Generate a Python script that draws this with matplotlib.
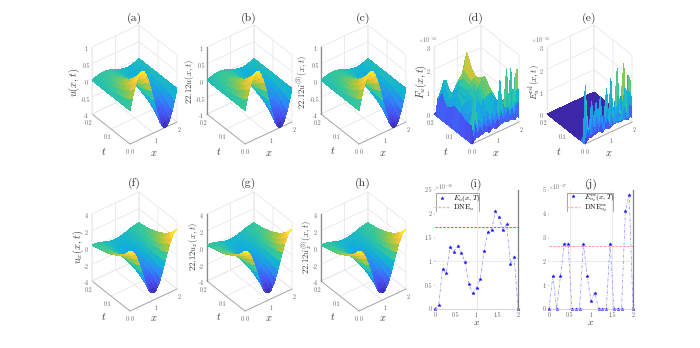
import numpy as np
import matplotlib
matplotlib.use("Agg")
import matplotlib.pyplot as plt
from matplotlib.colors import LinearSegmentedColormap
from matplotlib.text import Text
from mpl_toolkits.mplot3d import proj3d

plt.rcParams['mathtext.fontset'] = 'cm'
plt.rcParams['font.family'] = ['cmr10', 'DejaVu Serif']
plt.rcParams['axes.formatter.use_mathtext'] = True
plt.rcParams['axes.unicode_minus'] = False

x_surf = [0, .1, .2, .3, .4, .5, .6, .7, .8, .9, 1, 1.1, 1.2, 1.3, 1.4, 1.5, 1.6, 1.7, 1.8, 1.9, 2]
t_surf = [0, .01, .02, .03, .04, .05, .06, .08, .1, .12, .14, .17, .2]
u_vals = [
 [0, .31, .59, .81, .95, 1.0, .95, .81, .59, .31, 0, -.31, -.59, -.81, -.95, -1.0, -.95, -.81, -.59, -.31, 0],
 [0, .28, .53, .72, .85, .89, .85, .72, .53, .28, 0, -.28, -.53, -.72, -.85, -.89, -.85, -.72, -.53, -.28, 0],
 [0, .24, .47, .64, .75, .79, .75, .64, .47, .24, 0, -.24, -.47, -.64, -.75, -.79, -.75, -.64, -.47, -.24, 0],
 [0, .22, .42, .57, .67, .71, .67, .57, .42, .22, 0, -.22, -.42, -.57, -.67, -.71, -.67, -.57, -.42, -.22, 0],
 [0, .20, .37, .51, .60, .63, .60, .51, .37, .20, 0, -.20, -.37, -.51, -.60, -.63, -.60, -.51, -.37, -.20, 0],
 [0, .17, .33, .45, .53, .56, .53, .45, .33, .17, 0, -.17, -.33, -.45, -.53, -.56, -.53, -.45, -.33, -.17, 0],
 [0, .15, .29, .40, .48, .50, .48, .40, .29, .15, 0, -.15, -.29, -.40, -.48, -.50, -.48, -.40, -.29, -.15, 0],
 [0, .12, .24, .32, .38, .40, .38, .32, .24, .12, 0, -.12, -.24, -.32, -.38, -.40, -.38, -.32, -.24, -.12, 0],
 [0, .10, .19, .26, .30, .32, .30, .26, .19, .10, 0, -.10, -.19, -.26, -.30, -.32, -.30, -.26, -.19, -.10, 0],
 [0, .08, .15, .20, .24, .25, .24, .20, .15, .08, 0, -.08, -.15, -.20, -.24, -.25, -.24, -.20, -.15, -.08, 0],
 [0, .06, .12, .16, .19, .20, .19, .16, .12, .06, 0, -.06, -.12, -.16, -.19, -.20, -.19, -.16, -.12, -.06, 0],
 [0, .04, .08, .11, .13, .14, .13, .11, .08, .04, 0, -.04, -.08, -.11, -.13, -.14, -.13, -.11, -.08, -.04, 0],
 [0, .03, .06, .08, .10, .10, .10, .08, .06, .03, 0, -.03, -.06, -.08, -.10, -.10, -.10, -.08, -.06, -.03, 0],
]
ux_vals = [
 [3.14, 2.99, 2.54, 1.85, .97, 0, -.97, -1.85, -2.54, -2.99, -3.14, -2.99, -2.54, -1.85, -.97, 0, .97, 1.85, 2.54, 2.99, 3.14],
 [2.80, 2.66, 2.26, 1.65, .86, 0, -.86, -1.65, -2.26, -2.66, -2.80, -2.66, -2.26, -1.65, -.86, 0, .86, 1.65, 2.26, 2.66, 2.80],
 [2.48, 2.36, 2.01, 1.46, .77, 0, -.77, -1.46, -2.01, -2.36, -2.48, -2.36, -2.01, -1.46, -.77, 0, .77, 1.46, 2.01, 2.36, 2.48],
 [2.23, 2.12, 1.80, 1.31, .69, 0, -.69, -1.31, -1.80, -2.12, -2.23, -2.12, -1.80, -1.31, -.69, 0, .69, 1.31, 1.80, 2.12, 2.23],
 [1.98, 1.88, 1.60, 1.17, .61, 0, -.61, -1.17, -1.60, -1.88, -1.98, -1.88, -1.60, -1.17, -.61, 0, .61, 1.17, 1.60, 1.88, 1.98],
 [1.76, 1.67, 1.42, 1.04, .54, 0, -.54, -1.04, -1.42, -1.67, -1.76, -1.67, -1.42, -1.04, -.54, 0, .54, 1.04, 1.42, 1.67, 1.76],
 [1.57, 1.50, 1.27, .93, .49, 0, -.49, -.93, -1.27, -1.50, -1.57, -1.50, -1.27, -.93, -.49, 0, .49, .93, 1.27, 1.50, 1.57],
 [1.26, 1.20, 1.02, .74, .39, 0, -.39, -.74, -1.02, -1.20, -1.26, -1.20, -1.02, -.74, -.39, 0, .39, .74, 1.02, 1.20, 1.26],
 [1.00, .96, .81, .59, .31, 0, -.31, -.59, -.81, -.96, -1.00, -.96, -.81, -.59, -.31, 0, .31, .59, .81, .96, 1.00],
 [.79, .75, .64, .46, .24, 0, -.24, -.46, -.64, -.75, -.79, -.75, -.64, -.46, -.24, 0, .24, .46, .64, .75, .79],
 [.63, .60, .51, .37, .19, 0, -.19, -.37, -.51, -.60, -.63, -.60, -.51, -.37, -.19, 0, .19, .37, .51, .60, .63],
 [.44, .42, .36, .26, .14, 0, -.14, -.26, -.36, -.42, -.44, -.42, -.36, -.26, -.14, 0, .14, .26, .36, .42, .44],
 [.31, .30, .25, .19, .10, 0, -.10, -.19, -.25, -.30, -.31, -.30, -.25, -.19, -.10, 0, .10, .19, .25, .30, .31],
]

x_err = [0, .09, .18, .27, .36, .45, .55, .64, .73, .82, .91, 1, 1.09, 1.18, 1.27, 1.36, 1.45, 1.55, 1.64, 1.73, 1.82, 1.91, 2]
t_err = [0, .003, .006, .01, .02, .04, .07, .1, .14, .17, .19, .2]
F_vals = [
 [0, .1, .2, .15, .25, .2, .3, .25, .15, .25, .3, .2, .2, .3, .3, .35, .3, .25, .3, .25, .2, .3, .2],
 [0, .33, .97, .4, .75, .4, .75, .47, .4, .47, .8, .43, .62, .47, .92, .5, .6, 1.0, .5, .97, .43, .85, .9],
 [0, .57, 1.73, .65, 1.25, .6, 1.2, .68, .65, .68, 1.33, .67, 1.03, .63, 1.54, .65, .9, 1.75, .7, 1.72, .62, 1.41, 1.6],
 [0, .8, 2.5, .9, 1.75, .8, 1.64, .9, .9, .9, 1.85, .9, 1.45, .8, 2.16, .8, 1.2, 2.5, .9, 2.46, .8, 1.97, 2.3],
 [0, .7, 1.2, .8, 1.0, .8, 1.0, .85, .9, .95, 1.1, .95, 1.05, .9, 1.1, .8, .9, 1.1, .7, 1.0, .6, .9, .8],
 [0, .75, .95, .95, .95, .9, 1.0, 1.05, 1.15, 1.3, 1.45, 1.5, 1.5, 1.4, 1.25, 1.0, .9, .8, .65, .6, .4, .4, .2],
 [0, .9, 1.1, 1.2, 1.25, 1.2, 1.2, 1.3, 1.5, 1.6, 1.75, 2.0, 2.0, 1.8, 1.5, 1.15, .9, .7, .55, .4, .25, .15, .05],
 [0, 1.0, 1.5, 1.45, 1.25, 1.1, 1.2, 1.4, 1.6, 1.75, 1.85, 1.8, 1.6, 1.3, 1.0, .75, .55, .4, .3, .2, .1, .05, 0],
 [0, .7, 1.0, 1.05, .95, 1.0, 1.15, 1.4, 1.7, 1.95, 2.7, 2.1, 1.6, 1.1, .7, .45, .3, .2, .15, .1, .05, 0, 0],
 [0, 1.2, 1.6, 1.55, 1.2, .9, .85, 1.0, 1.2, 1.35, 1.3, 1.0, .6, .35, .2, .1, .1, .05, 0, 0, 0, 0, 0],
 [0, .7, .9, .9, .7, .5, .45, .5, .6, .7, .6, .4, .25, .15, .1, .05, .05, 0, 0, 0, 0, 0, 0],
 [0, .05, .08, .08, .05, .04, .04, .04, .05, .05, .05, .04, .03, .02, .02, .01, .01, 0, 0, 0, 0, 0, 0],
]
E_vals = [
 [0, .1, .2, .15, .25, .2, .3, .25, .15, .25, .3, .2, .2, .3, .3, .35, .3, .25, .3, .25, .2, .3, .2],
 [0, .9, .37, .3, .72, .37, .7, .44, .67, .3, .5, .77, .3, .96, .4, .63, 1.06, .4, .7, 1.07, .37, .89, .73],
 [0, 1.7, .53, .45, 1.19, .53, 1.1, .62, 1.18, .35, .7, 1.35, .4, 1.62, .5, .92, 1.82, .55, 1.1, 1.88, .53, 1.48, 1.27],
 [0, 2.5, .7, .6, 1.66, .7, 1.5, .8, 1.7, .4, .9, 1.92, .5, 2.27, .6, 1.2, 2.58, .7, 1.5, 2.69, .7, 2.06, 1.8],
 [0, .15, .05, .05, .1, .05, .1, .05, .1, .03, .05, .1, .03, .15, .05, .1, .15, .05, .1, .15, .05, .1, .1],
 [0] * 23, [0] * 23, [0] * 23, [0] * 23, [0] * 23, [0] * 23, [0] * 23,
]

x_pts = [0, .0909, .1818, .2727, .3636, .4545, .5455, .6364, .7273, .8182, .9091, 1, 1.0909, 1.1818, 1.2727, 1.3636, 1.4545, 1.5455, 1.6364, 1.7273, 1.8182, 1.9091, 2]
Eu_T = [0, .09, .85, .75, 1.3, 1.2, 1.33, 1.18, .98, .52, .33, .45, .63, 1.22, 1.62, 1.66, 2.05, 1.93, 1.65, 1.78, .95, 1.09, 0]
Eux_T = [0, 1.38, 0, 1.38, 2.75, 2.75, 0, 0, 0, 2.75, 1.38, .34, .69, 0, 0, 0, 2.75, 0, 0, 0, 4.12, 4.8, 0]
dne_u = 1.72
dne_ux = 2.63

parula_pts = [(.2422, .1504, .6603), (.2810, .3228, .9578), (.1786, .5289, .9682), (.0689, .6948, .8394),
              (.2161, .7843, .5923), (.6720, .7793, .2227), (.9970, .7659, .2199), (.9769, .9839, .0805)]
parula = LinearSegmentedColormap.from_list('parula', parula_pts)

W, H, DPI = 700, 348, 100
fig = plt.figure(figsize=(W / DPI, H / DPI), dpi=DPI)
GRID = '#e8e8e8'
AXC = '#a0a0a0'
TXT = '#404040'
TICK = '#606060'


def surface(xs, ts, zs, origin, zlim, zticks, zticklabels, zlabel, title, zspine=True, zexp=None,
            zlab_off=(-56, -62), xlab_off=(24, 9), tlab_off=(-26, 7), zfs=7.5):
    ax = fig.add_axes([.1, .1, .4, .8], projection='3d', proj_type='ortho')
    X, T = np.meshgrid(xs, ts)
    Z = np.array(zs, float)
    ax.plot_surface(X, T, Z, cmap=parula, rstride=1, cstride=1, linewidth=0, antialiased=False,
                    shade=False, vmin=Z.min(), vmax=Z.max(), zorder=2)
    ax.set_xlim(0, 2); ax.set_ylim(0, .2); ax.set_zlim(*zlim)
    ax.view_init(elev=37.4, azim=-127.6)
    ax.set_box_aspect((59.3, 62.3, 84.4))
    ax.set_xticks([0, 1, 2]); ax.set_yticks([0, .1, .2]); ax.set_zticks(zticks)
    ax.set_xticklabels(['0', '1', '2']); ax.set_yticklabels(['0', '0.1', '0.2']); ax.set_zticklabels(zticklabels)
    ax.tick_params(labelsize=4.3, colors=TICK, length=0)
    ax.tick_params(axis='x', pad=-5.6)
    ax.tick_params(axis='y', pad=-5.2)
    ax.tick_params(axis='z', pad=-5)
    for a in (ax.xaxis, ax.yaxis, ax.zaxis):
        a.set_pane_color((1, 1, 1, 0))
        a.pane.set_edgecolor(GRID)
        a.pane.set_linewidth(0.6)
        a._axinfo['grid'].update(color=GRID, linewidth=0.6)
        a._axinfo['tick'].update(inward_factor=0, outward_factor=0)
        a.set_rotate_label(False)
    ax.xaxis.line.set_color(AXC); ax.yaxis.line.set_color(AXC)
    ax.xaxis.line.set_linewidth(.6); ax.yaxis.line.set_linewidth(.6)
    ax.zaxis.line.set_color('#8c8c8c' if zspine else GRID)
    ax.zaxis.line.set_linewidth(.9 if zspine else .6)
    ax.set_xlabel(r'$x$', fontsize=7.5, color=TXT)
    ax.set_ylabel(r'$t$', fontsize=7.5, color=TXT)
    ax.set_zlabel(zlabel, fontsize=zfs, color=TXT, rotation=90)

    ax.apply_aspect()

    def pix(a, b, c):
        px, py, _ = proj3d.proj_transform(a, b, c, ax.get_proj())
        return ax.transData.transform((px, py))
    size = 400 / W
    ax.set_position([.1, .1, size, size * W / H])
    fig.canvas.draw()
    p0 = pix(0, 0, zlim[0]); p1 = pix(2, 0, zlim[0])
    size *= 47.0 / (p1[0] - p0[0])
    ax.set_position([.1, .1, size, size * W / H])
    fig.canvas.draw()
    p0 = pix(0, 0, zlim[0])
    tx, ty = origin
    ax.set_position([.1 + (tx - p0[0]) / W, .1 + ((H - ty) - p0[1]) / H, size, size * W / H])
    ax.patch.set_alpha(0)
    fig.canvas.draw()
    for lab, off in ((ax.xaxis.label, xlab_off), (ax.yaxis.label, tlab_off), (ax.zaxis.label, zlab_off)):
        pos = ax.transData.inverted().transform((tx + off[0], H - (ty + off[1])))
        Text.set_position(lab, pos)
        lab.set_position = lambda *a, **k: None
    fig.text((tx + 4) / W, (H - (ty - 126 + (2 if ty > 200 else 0) * -1)) / H, title, ha='center', va='center',
             fontsize=8.5, color='#333333')
    if zexp:
        fig.text((tx - 45) / W, (H - (ty - 104)) / H, zexp, ha='center', va='center', fontsize=4, color=TICK)
    return ax


z1 = [-1, -.5, 0, .5, 1]
z1l = ['-1', '-0.5', '0', '0.5', '1']
surface(x_surf, t_surf, u_vals, (130, 144), (-1, 1), z1, z1l, r'$u(x,t)$', '(a)', zspine=False)
surface(x_surf, t_surf, u_vals, (245, 144), (-1, 1), z1, z1l, r'$22.12u(x,t)$', '(b)', zfs=6.3)
surface(x_surf, t_surf, u_vals, (359, 144), (-1, 1), z1, z1l, r'$22.12\hat{u}^{(3)}(x,t)$', '(c)', zfs=6.3)
surface(x_err, t_err, F_vals, (472, 144), (0, 3), [0, 1, 2, 3], ['0', '1', '2', '3'],
        r'$F_u(x,t)$', '(d)', zspine=False, zexp=r'$\times10^{-15}$', zlab_off=(-51, -62))
surface(x_err, t_err, E_vals, (585, 144), (0, 3), [0, 1, 2, 3], ['0', '1', '2', '3'],
        r'$E_u^{\mathrm{rel}}(x,t)$', '(e)', zspine=False, zexp=r'$\times10^{-15}$', zlab_off=(-50, -62), zfs=6.5)
z4 = [-4, -2, 0, 2, 4]
z4l = ['-4', '-2', '0', '2', '4']
low = dict(zlab_off=(-52, -64), xlab_off=(24, 7), tlab_off=(-26, 5))
surface(x_surf, t_surf, ux_vals, (130, 311), (-4, 4), z4, z4l, r'$u_x(x,t)$', '(f)', zspine=False, **low)
surface(x_surf, t_surf, ux_vals, (245, 311), (-4, 4), z4, z4l, r'$22.12u_x(x,t)$', '(g)', zfs=6.3, **low)
surface(x_surf, t_surf, ux_vals, (359, 311), (-4, 4), z4, z4l, r'$22.12\hat{u}_x^{(3)}(x,t)$', '(h)', zfs=6.3, **low)


def line_panel(left, right, top, bottom, y, ymax, yticks, yticklabels, dne, lab1, lab2, title, exp,
               gridx, gridy, dne_color, leg_left, leg_right):
    ax = fig.add_axes([left / W, 1 - bottom / H, (right - left) / W, (bottom - top) / H])
    ax.plot(x_pts, y, color='#5050ff', lw=.5, ls=(0, (4, 2, 1, 2)), alpha=.7, clip_on=False)
    ax.plot(x_pts, y, ls='none', marker='*', ms=2.6, mfc='#1010ff', mec='#1010ff', mew=.2, clip_on=False, label=lab1)
    ax.axhline(dne, color=dne_color, lw=.7, ls=(0, (2.5, 1.5)))
    ax.plot([], [], color='#ffb0b0', lw=1, ls=(0, (2, 1)), label=lab2)
    ax.set_xlim(0, 2); ax.set_ylim(0, ymax)
    ax.set_xticks([0, .5, 1, 1.5, 2]); ax.set_xticklabels(['0', '0.5', '1', '1.5', '2'])
    ax.set_yticks(yticks); ax.set_yticklabels(yticklabels)
    ax.tick_params(labelsize=4.3, colors=TICK, length=1, width=.3, pad=1.2)
    for g in gridx:
        ax.axvline(g, color=GRID, lw=.6, zorder=0)
    for g in gridy:
        ax.axhline(g, color=GRID, lw=.6, zorder=0)
    ax.spines['right'].set(color='#808080', linewidth=.9)
    ax.spines['top'].set_visible(False)
    ax.spines['left'].set_visible(False)
    ax.spines['bottom'].set(color='#c8c8c8', linewidth=.5)
    ax.patch.set_alpha(0)
    ax.set_xlabel(r'$x$', fontsize=7, color=TXT, labelpad=0.5)
    ax.set_title(title, fontsize=8.5, color='#333333', pad=2.5)
    fig.text((left + 8) / W, 1 - (top - 3) / H, exp, fontsize=4, color=TICK, ha='center', va='center')
    wd, ht = right - left, bottom - top
    x0, x1 = (leg_left - left) / wd, (leg_right - left) / wd
    y0, y1 = 1 - 21 / ht, 1 - 3 / ht
    ax.plot([x0, x0, x1, x1], [y0, y1, y1, y0], transform=ax.transAxes, color='#808080', lw=.5, clip_on=False)
    ax.legend(loc='center', bbox_to_anchor=(x0, y0 - .01, x1 - x0, y1 - y0), fontsize=5.3, frameon=False,
              borderpad=0, labelspacing=-.15, handlelength=2.0, handletextpad=.5, borderaxespad=0)
    return ax


line_panel(435, 518, 190, 309, Eu_T, 2.5, [0, .5, 1, 1.5, 2, 2.5], ['0', '0.5', '1', '1.5', '2', '2.5'], dne_u,
           r'$E_u(x,T)$', r'$\mathrm{DNE}_u$', '(i)', r'$\times10^{-16}$', [1], [1], '#ff4040', 436, 479)
line_panel(549, 633, 190, 309, Eux_T, 5, [0, 1, 2, 3, 4, 5], ['0', '1', '2', '3', '4', '5'], dne_ux,
           r'$E_{u_x}^{\mathrm{ex}}(x,T)$', r'$\mathrm{DNE}_{u_x}^{\mathrm{ex}}$', '(j)', r'$\times10^{-17}$',
           [.5, 1.5], [2], '#ff9a9a', 567, 613)

fig.savefig('out.png', dpi=DPI)
